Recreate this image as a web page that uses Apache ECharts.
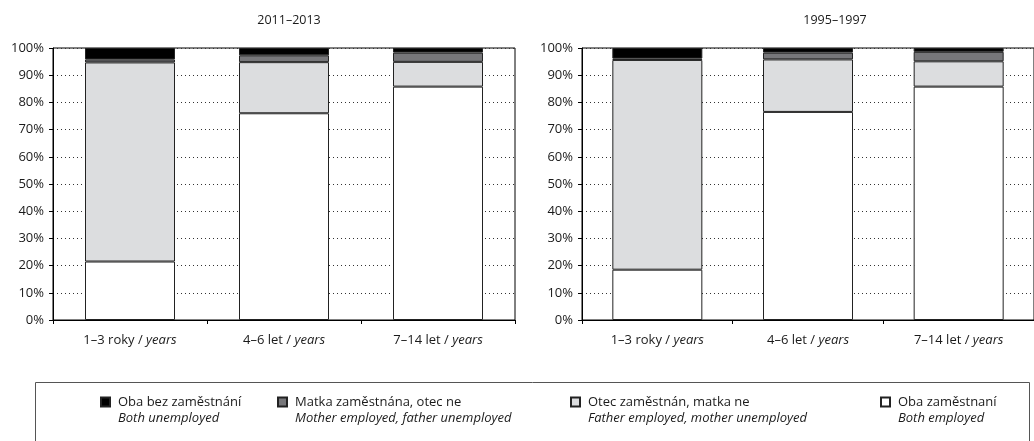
<!DOCTYPE html>
<html>
<head>
<meta charset="utf-8">
<script src="https://cdn.jsdelivr.net/npm/echarts@6/dist/echarts.min.js"></script>
<style>
  html, body { margin: 0; background: #fff; }
  #chart { width: 1034px; height: 441px; }
</style>
</head>
<body>
<div id="chart"></div>
<script>
const categories = ['1–3 roky', '4–6 let', '7–14 let']
const periods = ['2011–2013', '1995–1997']
// stacked bottom -> top
const seriesNames = ['Oba zaměstnaní', 'Otec zaměstnán, matka ne', 'Matka zaměstnána, otec ne', 'Oba bez zaměstnání']
const seriesNamesEn = ['Both employed', 'Father employed, mother unemployed', 'Mother employed, father unemployed', 'Both unemployed']
const seriesColors = ['#ffffff', '#dcdddf', '#77777a', '#000000']

// 2011–2013, percent
const bothEmployed2011 = [21.5, 76.0, 85.8]
const fatherOnly2011 = [73.2, 18.8, 9.1]
const motherOnly2011 = [1.1, 2.5, 3.4]
const noneEmployed2011 = [4.2, 2.7, 1.7]

// 1995–1997, percent
const bothEmployed1995 = [18.5, 76.5, 85.8]
const fatherOnly1995 = [77.1, 19.3, 9.3]
const motherOnly1995 = [0.5, 2.5, 3.5]
const noneEmployed1995 = [3.9, 1.7, 1.4]

const periodData = [
  [bothEmployed2011, fatherOnly2011, motherOnly2011, noneEmployed2011],
  [bothEmployed1995, fatherOnly1995, motherOnly1995, noneEmployed1995],
]

const FONT = '"Open Sans", sans-serif'
const TEXT = '#1a1a1a'
const FS = 13

const chart = echarts.init(document.getElementById('chart'), null, { renderer: 'canvas' })

const gridLefts = [53, 582]

const grids = gridLefts.map((left) => ({
  left,
  top: 48,
  width: 462,
  height: 272,
  show: true,
  borderColor: '#000',
  borderWidth: 1,
  backgroundColor: 'transparent',
}))

const xAxes = gridLefts.map((_, i) => ({
  type: 'category',
  gridIndex: i,
  data: categories,
  axisLine: { lineStyle: { color: '#000', width: 1 } },
  axisTick: { show: true, length: 4, lineStyle: { color: '#000' } },
  axisLabel: {
    margin: 14,
    fontFamily: FONT,
    fontSize: FS,
    color: TEXT,
    formatter: (v) => v + ' / {i|years}',
    rich: { i: { fontFamily: FONT, fontSize: FS, fontStyle: 'italic', color: TEXT } },
  },
}))

const yAxes = gridLefts.map((_, i) => ({
  type: 'value',
  gridIndex: i,
  min: 0,
  max: 100,
  interval: 10,
  axisLine: { show: true, lineStyle: { color: '#000', width: 1 } },
  axisTick: { show: true, length: 4, lineStyle: { color: '#000' } },
  axisLabel: { margin: 9, fontFamily: FONT, fontSize: FS, color: TEXT, formatter: '{value}%' },
  splitLine: { show: true, lineStyle: { color: '#333', width: 1, type: [1, 3] } },
}))

const series = []
periodData.forEach((rows, gi) => {
  rows.forEach((vals, si) => {
    series.push({
      name: seriesNames[si],
      type: 'bar',
      stack: 'p' + gi,
      xAxisIndex: gi,
      yAxisIndex: gi,
      barWidth: 90,
      data: vals,
      itemStyle: { color: seriesColors[si], borderColor: '#222', borderWidth: 1 },
      emphasis: { disabled: true },
    })
  })
})

// legend order as in the reference: top segment first
const legendOrder = [3, 2, 1, 0]
const legendLefts = [100, 277, 570, 880]
const legends = legendOrder.map((si, k) => ({
  data: [seriesNames[si]],
  left: legendLefts[k],
  top: 378,
  padding: 0,
  icon: 'rect',
  itemWidth: 9,
  itemHeight: 9,
  selectedMode: false,
  formatter: (name) => '\n{a|' + name + '}\n{b|' + seriesNamesEn[seriesNames.indexOf(name)] + '}',
  textStyle: {
    fontFamily: FONT,
    fontSize: FS,
    lineHeight: 16,
    color: TEXT,
    padding: [0, 0, 0, 3],
    rich: {
      a: { fontFamily: FONT, fontSize: FS, lineHeight: 16, color: TEXT },
      b: { fontFamily: FONT, fontSize: FS, lineHeight: 16, color: TEXT, fontStyle: 'italic' },
    },
  },
}))

chart.setOption({
  animation: false,
  backgroundColor: '#fff',
  title: periods.map((p, i) => ({
    text: p,
    left: gridLefts[i] + (i === 0 ? 231 : 248),
    top: 9,
    textAlign: 'center',
    textStyle: { fontFamily: FONT, fontSize: 12.5, fontWeight: 'normal', color: TEXT },
  })),
  grid: grids,
  xAxis: xAxes,
  yAxis: yAxes,
  legend: legends,
  graphic: [
    {
      type: 'rect',
      shape: { x: 35.5, y: 382.5, width: 994, height: 80 },
      style: { fill: 'none', stroke: '#555', lineWidth: 1 },
      silent: true,
    },
  ],
  series,
})
</script>
</body>
</html>
